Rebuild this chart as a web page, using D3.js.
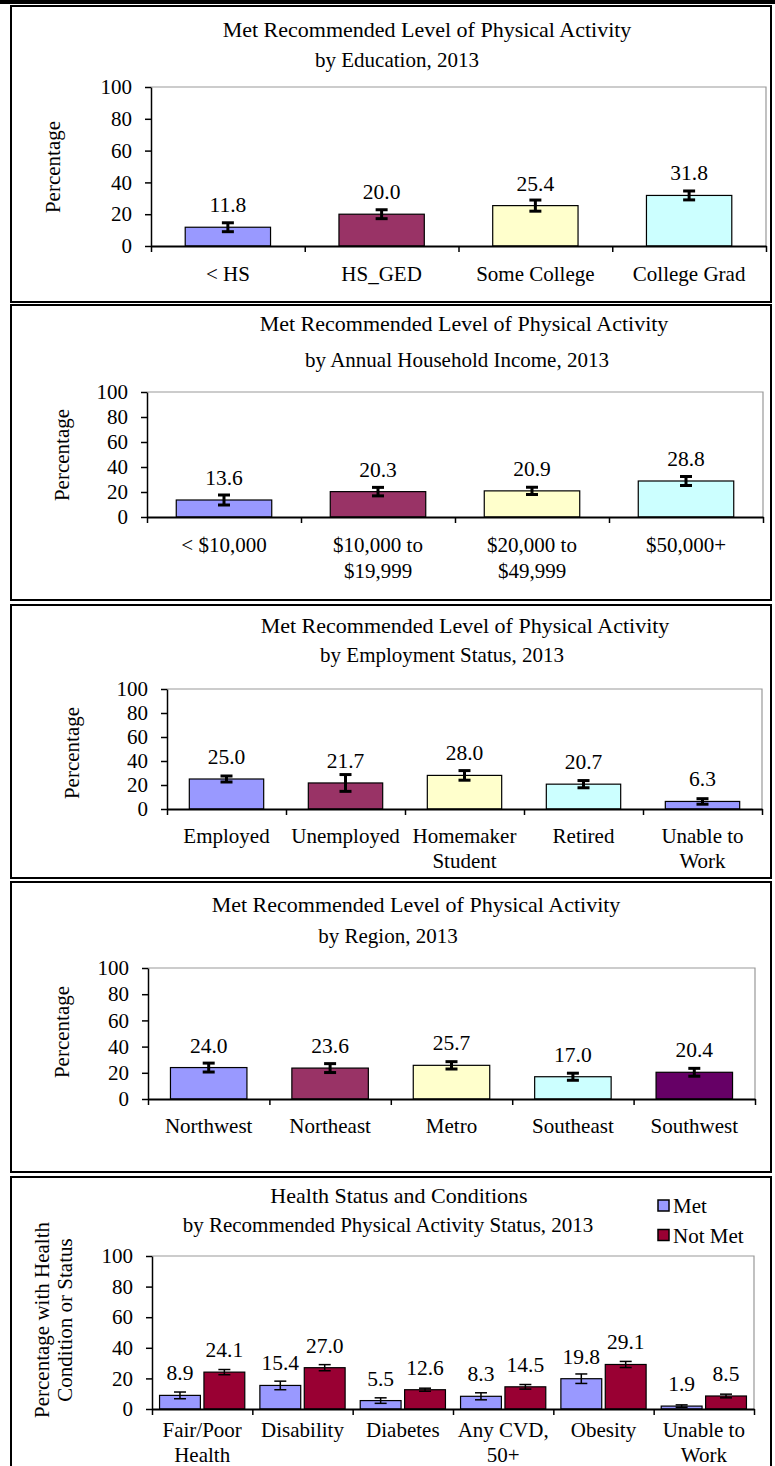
<!DOCTYPE html>
<html>
<head>
<meta charset="utf-8">
<script src="https://cdn.jsdelivr.net/npm/d3@7"></script>
<style>
body{margin:0;background:#fff;}
svg text{font-family:"Liberation Serif","Times New Roman",serif;fill:#000;}
</style>
</head>
<body>
<div id="container"></div>
<script>
var width = 775;
var height = 1466;

var yTicks = [0, 20, 40, 60, 80, 100];

// by education
var eduCats = [["< HS"], ["HS_GED"], ["Some College"], ["College Grad"]];
var eduVals = [11.8, 20.0, 25.4, 31.8];
var eduErr = [2.8, 2.8, 3.5, 2.8];
var eduColors = ["#9999ff", "#993366", "#ffffcc", "#ccffff"];

// by income
var incCats = [["< $10,000"], ["$10,000 to", "$19,999"], ["$20,000 to", "$49,999"], ["$50,000+"]];
var incVals = [13.6, 20.3, 20.9, 28.8];
var incErr = [4.0, 3.4, 2.9, 3.6];
var incColors = ["#9999ff", "#993366", "#ffffcc", "#ccffff"];

// by employment
var empCats = [["Employed"], ["Unemployed"], ["Homemaker", "Student"], ["Retired"], ["Unable to", "Work"]];
var empVals = [25.0, 21.7, 28.0, 20.7, 6.3];
var empErr = [2.5, 7.0, 4.0, 3.0, 2.3];
var empColors = ["#9999ff", "#993366", "#ffffcc", "#ccffff", "#9999ff"];

// by region
var regCats = [["Northwest"], ["Northeast"], ["Metro"], ["Southeast"], ["Southwest"]];
var regVals = [24.0, 23.6, 25.7, 17.0, 20.4];
var regErr = [3.4, 3.4, 2.8, 2.7, 3.0];
var regColors = ["#9999ff", "#993366", "#ffffcc", "#ccffff", "#660066"];

// health conditions by activity status
var hlthCats = [["Fair/Poor", "Health"], ["Disability"], ["Diabetes"], ["Any CVD,", "50+"], ["Obesity"], ["Unable to", "Work"]];
var hlthSeries = ["Met", "Not Met"];
var hlthMet = [8.9, 15.4, 5.5, 8.3, 19.8, 1.9];
var hlthMetErr = [2.2, 2.8, 1.8, 2.3, 3.1, 0.8];
var hlthNot = [24.1, 27.0, 12.6, 14.5, 29.1, 8.5];
var hlthNotErr = [1.7, 2.0, 1.0, 1.5, 2.0, 1.2];
var hlthColors = ["#9999ff", "#990033"];

var svg = d3.select("#container").append("svg")
	.attr("width", width)
	.attr("height", height)
	.style("background", "#fff");

svg.append("rect")
	.attr("x", 0).attr("y", 0)
	.attr("width", width).attr("height", 4)
	.attr("fill", "#000");

function fmt(v){ return v.toFixed(1); }

function frameAndTitles(p){
	svg.append("rect")
		.attr("x", 11).attr("y", p.fy0)
		.attr("width", 760).attr("height", p.fy1 - p.fy0)
		.attr("fill", "none")
		.attr("stroke", "#000")
		.attr("stroke-width", 2);
	svg.append("text")
		.attr("x", p.titleX).attr("y", p.titleY)
		.attr("text-anchor", "middle")
		.attr("font-size", 22)
		.text(p.title);
	svg.append("text")
		.attr("x", p.subX).attr("y", p.subY)
		.attr("text-anchor", "middle")
		.attr("font-size", 21)
		.text(p.sub);
}

function axes(p, y, n){
	var g = svg.append("g");
	// gray plot area border (top + right)
	g.append("path")
		.attr("d", "M" + p.x0 + "," + p.yTop + "H" + p.x1 + "V" + p.yBot)
		.attr("fill", "none")
		.attr("stroke", "#999")
		.attr("stroke-width", 1.2);

	var yAxis = g.append("g")
		.attr("transform", "translate(" + p.x0 + ",0)")
		.call(d3.axisLeft(y).tickValues(yTicks).tickSize(6).tickSizeOuter(0).tickPadding(13));
	yAxis.selectAll("text").attr("font-size", 21).attr("font-family", "Liberation Serif, serif");
	yAxis.selectAll("line").attr("stroke-width", 1.5);
	yAxis.select(".domain").attr("stroke-width", 1.5);

	var xi = d3.scaleLinear().domain([0, n]).range([p.x0, p.x1]);
	var xAxis = g.append("g")
		.attr("transform", "translate(0," + p.yBot + ")")
		.call(d3.axisBottom(xi).tickValues(d3.range(n + 1)).tickFormat("").tickSize(6).tickSizeOuter(0));
	xAxis.selectAll("line").attr("stroke-width", 1.5);
	xAxis.select(".domain").attr("stroke-width", 1.8);
}

function yTitle(p, lines){
	var t = svg.append("text")
		.attr("transform", "translate(" + p.ytX + "," + p.ytY + ") rotate(-90)")
		.attr("text-anchor", "middle")
		.attr("font-size", 21);
	lines.forEach(function(l, i){
		t.append("tspan")
			.attr("x", 0)
			.attr("dy", i == 0 ? (0.35 - (lines.length - 1) * 0.55) + "em" : "1.1em")
			.text(l);
	});
}

function catLabels(p, x, cats){
	svg.append("g").selectAll("text")
		.data(cats)
		.enter()
		.append("text")
		.attr("text-anchor", "middle")
		.attr("font-size", 21)
		.each(function(d, i){
			var t = d3.select(this);
			var cx = x(i) + x.bandwidth() / 2;
			d.forEach(function(l, j){
				t.append("tspan")
					.attr("x", cx)
					.attr("y", p.catY + j * p.lineH)
					.text(l);
			});
		});
}

function errBars(g, data, capW, sw){
	var eb = g.selectAll("g.eb")
		.data(data)
		.enter()
		.append("g")
		.attr("class", "eb")
		.attr("stroke", "#000")
		.attr("stroke-width", sw);
	eb.append("line")
		.attr("x1", function(d){ return d.cx; }).attr("x2", function(d){ return d.cx; })
		.attr("y1", function(d){ return d.lo; }).attr("y2", function(d){ return d.hi; });
	eb.append("line")
		.attr("x1", function(d){ return d.cx - capW / 2; }).attr("x2", function(d){ return d.cx + capW / 2; })
		.attr("y1", function(d){ return d.hi; }).attr("y2", function(d){ return d.hi; });
	eb.append("line")
		.attr("x1", function(d){ return d.cx - capW / 2; }).attr("x2", function(d){ return d.cx + capW / 2; })
		.attr("y1", function(d){ return d.lo; }).attr("y2", function(d){ return d.lo; });
}

function simplePanel(p, cats, vals, errs, colors){
	frameAndTitles(p);
	var n = cats.length;
	var y = d3.scaleLinear().domain([0, 100]).range([p.yBot, p.yTop]);
	var pad = 1 - p.barFrac;
	var x = d3.scaleBand().domain(d3.range(n)).range([p.x0, p.x1]).paddingInner(pad).paddingOuter(pad / 2);

	var g = svg.append("g");
	g.selectAll("rect")
		.data(vals)
		.enter()
		.append("rect")
		.attr("x", function(d, i){ return x(i); })
		.attr("y", function(d){ return y(d); })
		.attr("width", x.bandwidth())
		.attr("height", function(d){ return p.yBot - y(d); })
		.attr("fill", function(d, i){ return colors[i]; })
		.attr("stroke", "#000")
		.attr("stroke-width", 1.2);

	var ed = vals.map(function(v, i){
		return {cx: x(i) + x.bandwidth() / 2, lo: y(v - errs[i]), hi: y(v + errs[i])};
	});
	errBars(g, ed, 12, 3);

	g.selectAll("text.val")
		.data(vals)
		.enter()
		.append("text")
		.attr("class", "val")
		.attr("x", function(d, i){ return x(i) + x.bandwidth() / 2; })
		.attr("y", function(d){ return y(d) - 15; })
		.attr("text-anchor", "middle")
		.attr("font-size", 21.5)
		.text(fmt);

	axes(p, y, n);
	yTitle(p, ["Percentage"]);
	catLabels(p, x, cats);
}

simplePanel({
	fy0: 6, fy1: 302, title: "Met Recommended Level of Physical Activity", sub: "by Education, 2013",
	titleX: 427, titleY: 37, subX: 397, subY: 67,
	x0: 151, x1: 766, yTop: 87, yBot: 246, barFrac: 0.555,
	ytX: 53, ytY: 167, catY: 281, lineH: 26
}, eduCats, eduVals, eduErr, eduColors);

simplePanel({
	fy0: 305, fy1: 600, title: "Met Recommended Level of Physical Activity", sub: "by Annual Household Income, 2013",
	titleX: 464, titleY: 331, subX: 457, subY: 367,
	x0: 147, x1: 763, yTop: 392, yBot: 517, barFrac: 0.62,
	ytX: 62, ytY: 455, catY: 552, lineH: 26
}, incCats, incVals, incErr, incColors);

simplePanel({
	fy0: 605, fy1: 878, title: "Met Recommended Level of Physical Activity", sub: "by Employment Status, 2013",
	titleX: 465, titleY: 633, subX: 442, subY: 662,
	x0: 167, x1: 762, yTop: 689, yBot: 809, barFrac: 0.625,
	ytX: 72, ytY: 753, catY: 843, lineH: 25
}, empCats, empVals, empErr, empColors);

simplePanel({
	fy0: 882, fy1: 1172, title: "Met Recommended Level of Physical Activity", sub: "by Region, 2013",
	titleX: 416, titleY: 912, subX: 388, subY: 943,
	x0: 148, x1: 755, yTop: 968, yBot: 1099, barFrac: 0.63,
	ytX: 62, ytY: 1032, catY: 1133, lineH: 25
}, regCats, regVals, regErr, regColors);

// grouped panel
(function(){
	var p = {
		fy0: 1177, fy1: 1472, title: "Health Status and Conditions", sub: "by Recommended Physical Activity Status, 2013",
		titleX: 399, titleY: 1203, subX: 388, subY: 1232,
		x0: 152, x1: 754, yTop: 1256, yBot: 1409,
		ytX: 53, ytY: 1320, catY: 1437, lineH: 25
	};
	frameAndTitles(p);
	var n = hlthCats.length;
	var y = d3.scaleLinear().domain([0, 100]).range([p.yBot, p.yTop]);
	var x = d3.scaleBand().domain(d3.range(n)).range([p.x0, p.x1]).padding(0);
	var xs = d3.scaleBand().domain([0, 1]).range([0, x.bandwidth()]).paddingInner(0.08).paddingOuter(0.17);
	var series = [hlthMet, hlthNot];
	var errs = [hlthMetErr, hlthNotErr];

	var data = [];
	series.forEach(function(s, k){
		s.forEach(function(v, i){
			data.push({i: i, k: k, v: v, e: errs[k][i]});
		});
	});

	var g = svg.append("g");
	g.selectAll("rect")
		.data(data)
		.enter()
		.append("rect")
		.attr("x", function(d){ return x(d.i) + xs(d.k); })
		.attr("y", function(d){ return y(d.v); })
		.attr("width", xs.bandwidth())
		.attr("height", function(d){ return p.yBot - y(d.v); })
		.attr("fill", function(d){ return hlthColors[d.k]; })
		.attr("stroke", "#000")
		.attr("stroke-width", 1.2);

	errBars(g, data.map(function(d){
		return {cx: x(d.i) + xs(d.k) + xs.bandwidth() / 2, lo: y(d.v - d.e), hi: y(d.v + d.e)};
	}), 12, 1.5);

	g.selectAll("text.val")
		.data(data)
		.enter()
		.append("text")
		.attr("class", "val")
		.attr("x", function(d){ return x(d.i) + xs(d.k) + xs.bandwidth() / 2; })
		.attr("y", function(d){ return y(d.v) - 15; })
		.attr("text-anchor", "middle")
		.attr("font-size", 21.5)
		.text(function(d){ return fmt(d.v); });

	axes(p, y, n);
	yTitle(p, ["Percentage with Health", "Condition or Status"]);
	catLabels(p, x, hlthCats);

	// legend
	var lg = svg.append("g").attr("transform", "translate(658,1200)");
	var items = lg.selectAll("g")
		.data(hlthSeries)
		.enter()
		.append("g")
		.attr("transform", function(d, i){ return "translate(0," + (i * 29.5) + ")"; });
	items.append("rect")
		.attr("width", 11).attr("height", 11)
		.attr("fill", function(d, i){ return hlthColors[i]; })
		.attr("stroke", "#000")
		.attr("stroke-width", 1.5);
	items.append("text")
		.attr("x", 15).attr("y", 13)
		.attr("font-size", 21)
		.text(function(d){ return d; });
})();
</script>
</body>
</html>
